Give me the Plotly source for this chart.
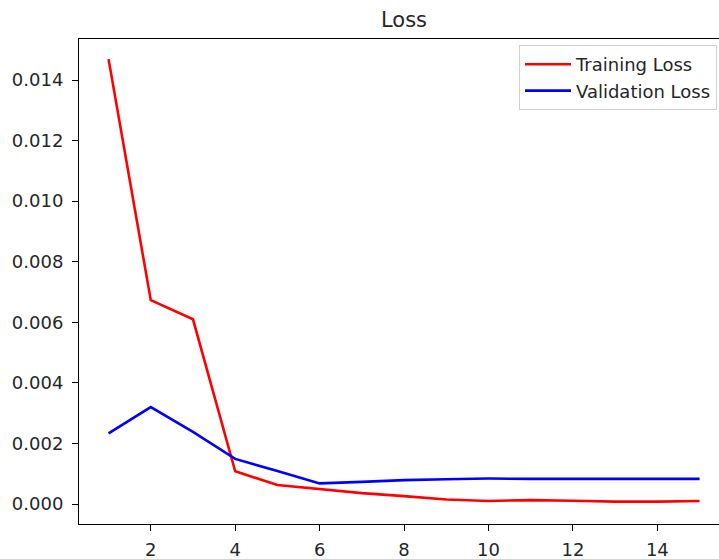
import plotly.graph_objects as go

epochs = list(range(1, 16))
training_loss = [0.01469, 0.00673, 0.00610, 0.00108, 0.00063, 0.00049, 0.00036, 0.00026,
                 0.00015, 0.00010, 0.00013, 0.00011, 0.00008, 0.00008, 0.00010]
validation_loss = [0.00233, 0.00320, 0.00238, 0.00149, 0.00109, 0.00068, 0.00073, 0.00079,
                   0.00082, 0.00084, 0.00083, 0.00083, 0.00083, 0.00083, 0.00083]
y_ticks = [0.000, 0.002, 0.004, 0.006, 0.008, 0.010, 0.012, 0.014]
x_ticks = [2, 4, 6, 8, 10, 12, 14]

font = "DejaVu Sans, sans-serif"

fig = go.Figure()
fig.add_trace(go.Scatter(x=epochs, y=training_loss, mode="lines", name="Training Loss",
                         line=dict(color="red", width=2.6)))
fig.add_trace(go.Scatter(x=epochs, y=validation_loss, mode="lines", name="Validation Loss",
                         line=dict(color="blue", width=2.6)))

fig.update_layout(
    width=719, height=559,
    margin=dict(l=79, r=0, t=39, b=35),
    plot_bgcolor="white", paper_bgcolor="white",
    font=dict(family=font, size=18, color="#262626"),
    title=dict(text="Loss", x=404/719, xanchor="center", y=1 - 20/559, yanchor="middle",
               font=dict(family=font, size=21, color="#262626")),
    showlegend=True,
    legend=dict(x=0.6875, y=0.9876, xanchor="left", yanchor="top",
                bgcolor="rgba(255,255,255,0.8)", bordercolor="#d0d0d0", borderwidth=1,
                font=dict(family=font, size=18, color="#262626"),
                tracegroupgap=0, itemwidth=46),
)
fig.update_xaxes(range=[0.3, 15.46], tickvals=x_ticks, ticktext=[str(t) for t in x_ticks],
                 showgrid=False, zeroline=False, showline=True, linecolor="black", linewidth=1,
                 mirror=True, ticks="outside", ticklen=6, tickcolor="black", tickwidth=1,
                 ticklabelstandoff=3)
fig.update_yaxes(range=[-0.00066, 0.015355], tickvals=y_ticks,
                 ticktext=[f"{t:.3f}" for t in y_ticks],
                 showgrid=False, zeroline=False, showline=True, linecolor="black", linewidth=1,
                 mirror=False, ticks="outside", ticklen=6, tickcolor="black", tickwidth=1,
                 ticklabelstandoff=5)

fig.write_html("out.html", config={"displayModeBar": False},
               post_script="document.body.style.margin='0';document.body.style.overflow='hidden';")
